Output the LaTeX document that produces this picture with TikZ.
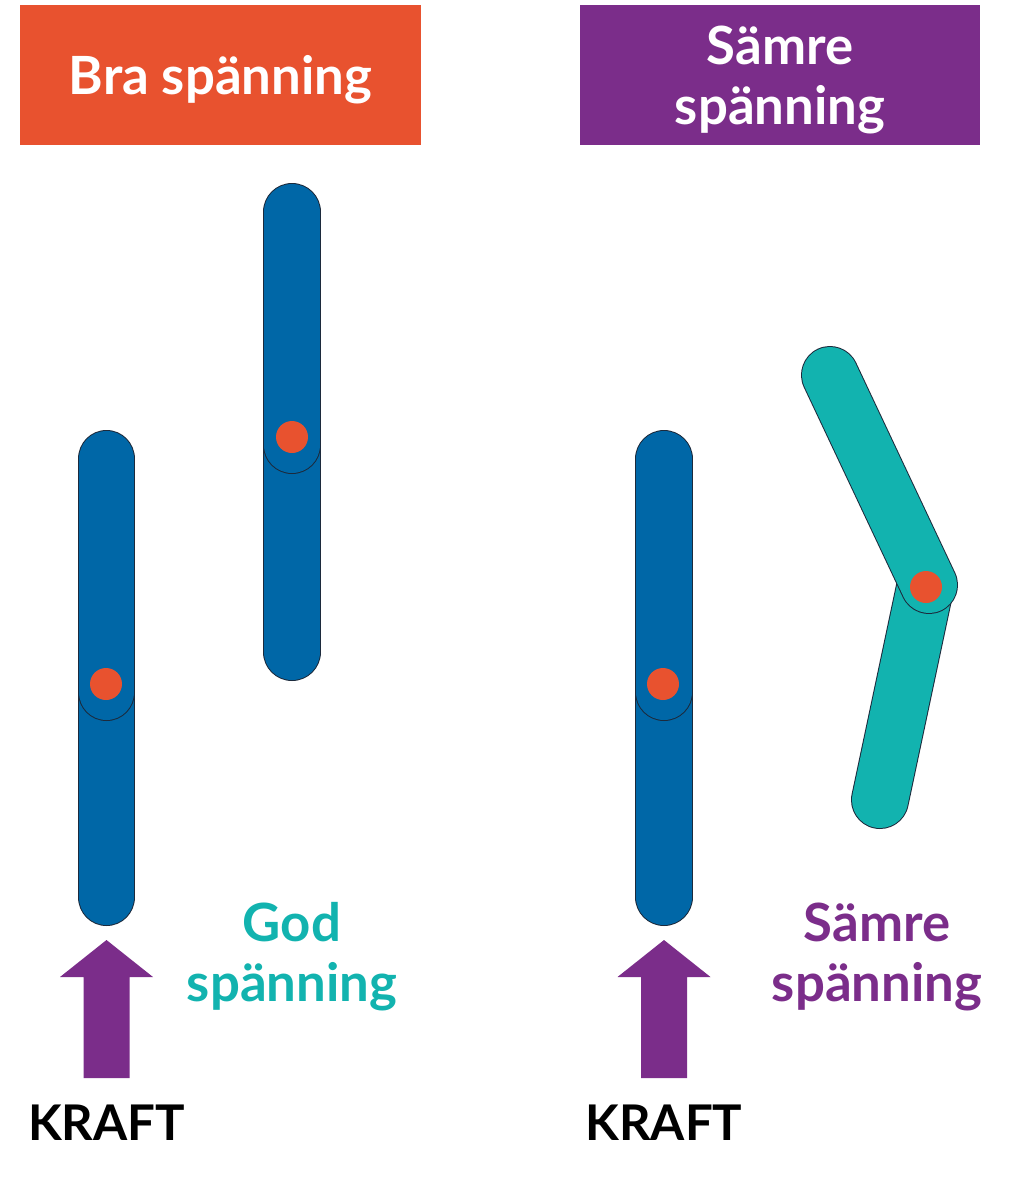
\documentclass[tikz,border=0pt]{standalone}
\usepackage{fontspec}
\setmainfont{Lato}
\usepackage{tikz}
\definecolor{spred}{HTML}{E8522F}
\definecolor{sppurple}{HTML}{7B2D8A}
\definecolor{spblue}{HTML}{0067A7}
\definecolor{spteal}{HTML}{12B3AF}
\definecolor{spedge}{HTML}{1C2A3C}

\tikzset{
  header/.style={minimum width=8.02cm, minimum height=2.8cm, inner sep=0pt,
    text=white, align=center, font=\bfseries\fontsize{30}{34}\selectfont},
  note/.style={align=center, inner sep=0pt, font=\bfseries\fontsize{30}{34}\selectfont},
  rodedge/.style={line width=1.16cm, line cap=round, draw=spedge},
  rodfill/.style={line width=1.12cm, line cap=round},
  joint/.style={circle, fill=spred, minimum size=0.64cm, inner sep=0pt},
}
\newcommand{\spbar}[3]{%
  \draw[rodedge] (#1) -- (#2);
  \draw[rodfill, #3] (#1) -- (#2);}
\newcommand{\kraftarrow}[1]{%
  \fill[sppurple] (#1) -- ++(46.5,37) -- ++(-23.5,0) -- ++(0,101)
    -- ++(-46,0) -- ++(0,-101) -- ++(-23.5,0) -- cycle;}

\begin{document}
\begin{tikzpicture}[x=0.02cm, y=-0.02cm]
\useasboundingbox (0,0) rectangle (1024,1181);

% headers
\fill[spred] (20,5) rectangle (421,145);
\fill[sppurple] (580,5) rectangle (980,145);
\node[header] (hbra) at (220.5,80) {Bra spänning};
\node[header] (hsamre) at (780,80) {Sämre\\spänning};

% left pair
\coordinate (aTop) at (106.5,459);
\coordinate (aJoint) at (106.5,692);
\coordinate (aLow) at (106.5,684);
\coordinate (aBot) at (106.5,897);
\spbar{aLow}{aBot}{spblue}
\spbar{aTop}{aJoint}{spblue}
\node[joint] (dotA) at (106,684) {};

\coordinate (bTop) at (292,212);
\coordinate (bJoint) at (292,445);
\coordinate (bLow) at (292,437);
\coordinate (bBot) at (292,652);
\spbar{bLow}{bBot}{spblue}
\spbar{bTop}{bJoint}{spblue}
\node[joint] (dotB) at (292,437) {};

% right pair
\coordinate (cTop) at (664,459);
\coordinate (cJoint) at (664,692);
\coordinate (cLow) at (664,684);
\coordinate (cBot) at (664,897);
\spbar{cLow}{cBot}{spblue}
\spbar{cTop}{cJoint}{spblue}
\node[joint] (dotC) at (663,684) {};

\coordinate (tTop) at (830,375);
\coordinate (tJoint) at (929,585);
\coordinate (tLow) at (926,583);
\coordinate (tBot) at (880,800);
\spbar{tLow}{tBot}{spteal}
\spbar{tTop}{tJoint}{spteal}
\node[joint] (dotT) at (926,587) {};

% force
\coordinate (kTipA) at (106.5,940);
\coordinate (kTipC) at (664,940);
\kraftarrow{kTipA}
\kraftarrow{kTipC}
\node[note, font=\bfseries\fontsize{28}{34}\selectfont] (kraftA) at (106.5,1123) {KRAFT};
\node[note, font=\bfseries\fontsize{28}{34}\selectfont] (kraftC) at (664,1123) {KRAFT};

% labels
\node[note, text=spteal] (god) at (292,957) {God\\spänning};
\node[note, text=sppurple] (samre) at (877,957) {Sämre\\spänning};
\end{tikzpicture}
\end{document}
